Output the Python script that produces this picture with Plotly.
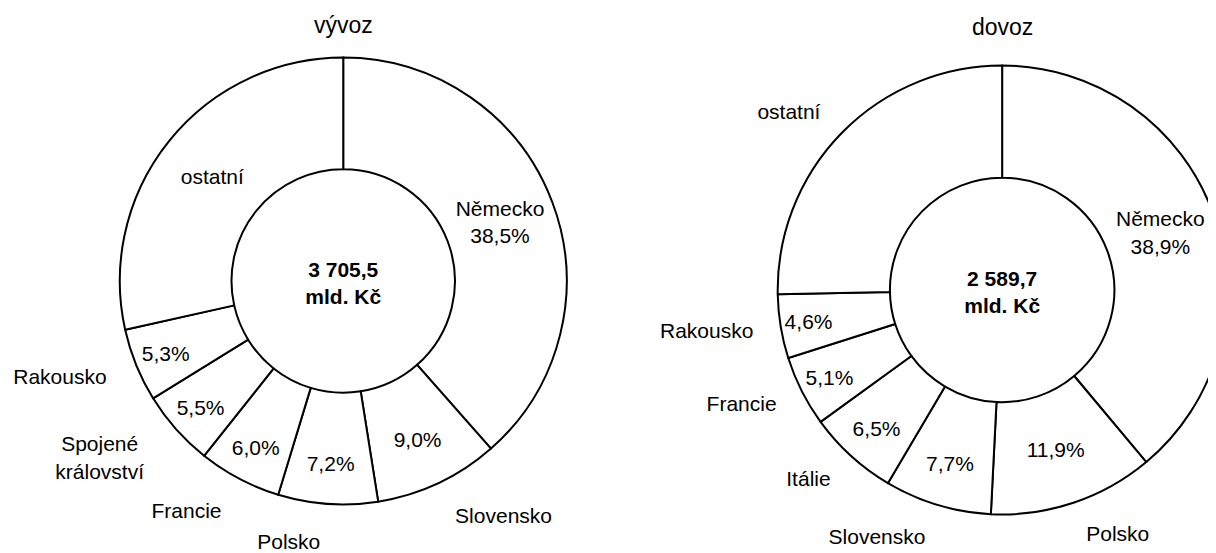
import plotly.graph_objects as go

# vývoz (export) - podíly zemí v %
vyvoz_zeme = ["Německo", "Slovensko", "Polsko", "Francie",
              "Spojené království", "Rakousko", "ostatní"]
vyvoz_podil = [38.5, 9.0, 7.2, 6.0, 5.5, 5.3, 28.5]
vyvoz_celkem = "3 705,5"

# dovoz (import)
dovoz_zeme = ["Německo", "Polsko", "Slovensko", "Itálie",
              "Francie", "Rakousko", "ostatní"]
dovoz_podil = [38.9, 11.9, 7.7, 6.5, 5.1, 4.6, 25.3]
dovoz_celkem = "2 589,7"

# plátno je širší než okno - pravý prstenec je v originále useknutý
W, H = 1300, 553
OFF = 8  # okraj <body> stránky
FONT = "Liberation Sans, Arial, sans-serif"


def pct(v):
    return ("%.1f" % v).replace(".", ",") + "%"


def dom(cx, cy, r):
    cx, cy = cx - OFF, cy - OFF
    return {"x": [(cx - r) / W, (cx + r) / W],
            "y": [1 - (cy + r) / H, 1 - (cy - r) / H]}


def donut(fig, zeme, podil, inside, outside, domain, ldomain, celkem):
    n = len(podil)
    # viditelný prstenec s texty uvnitř
    fig.add_trace(go.Pie(
        labels=zeme, values=podil, sort=False, direction="clockwise",
        hole=0.5, domain=domain,
        marker=dict(colors=["white"] * n, line=dict(color="black", width=2)),
        text=inside, textinfo="text", textposition="inside",
        insidetextorientation="horizontal",
        textfont=dict(family=FONT, size=21, color="black"),
        title=dict(text="<b>%s<br>mld. Kč</b>" % celkem, position="middle center",
                   font=dict(family=FONT, size=21, color="black")),
        showlegend=False, hoverinfo="label+percent"))
    # průhledná větší kopie jen pro popisky vně
    fig.add_trace(go.Pie(
        labels=zeme, values=podil, sort=False, direction="clockwise",
        hole=0.9, domain=ldomain,
        marker=dict(colors=["rgba(0,0,0,0)"] * n, line=dict(width=0)),
        text=outside, textinfo="text",
        textposition=["outside" if t else "none" for t in outside],
        textfont=dict(family=FONT, size=21, color="black"),
        showlegend=False, hoverinfo="skip"))


fig = go.Figure()

c1 = (336.5, 281, 225)
c2 = (1000, 290, 226)

v_in = ["Německo<br>" + pct(vyvoz_podil[0])] + [pct(v) for v in vyvoz_podil[1:6]] + ["ostatní"]
v_out = [""] + ["Slovensko", "Polsko", "Francie", "Spojené<br>království", "Rakousko"] + [""]
donut(fig, vyvoz_zeme, vyvoz_podil, v_in, v_out,
      dom(*c1), dom(c1[0], c1[1], c1[2] + 26), vyvoz_celkem)

d_in = ["Německo<br>" + pct(dovoz_podil[0])] + [pct(v) for v in dovoz_podil[1:6]] + [""]
d_out = [""] + dovoz_zeme[1:]
donut(fig, dovoz_zeme, dovoz_podil, d_in, d_out,
      dom(*c2), dom(c2[0], c2[1], c2[2] + 22), dovoz_celkem)

for (cx, cy, r), t, ty in [(c1, "vývoz", 25), (c2, "dovoz", 27)]:
    fig.add_annotation(x=(cx - OFF) / W, y=1 - (ty - OFF) / H,
                       xref="paper", yref="paper",
                       xanchor="center", yanchor="middle", showarrow=False, text=t,
                       font=dict(family=FONT, size=23, color="black"))

fig.update_layout(
    width=W, height=H,
    margin=dict(l=0, r=0, t=0, b=0),
    paper_bgcolor="white", plot_bgcolor="white",
    font=dict(family=FONT, size=21, color="black"),
)

fig.write_html("out.html")
